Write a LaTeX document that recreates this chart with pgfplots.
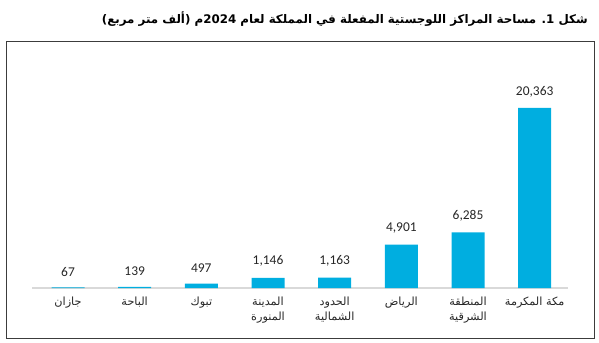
\documentclass[border=0pt]{standalone}
\usepackage{fontspec}
\usepackage{pgfplots}
\pgfplotsset{compat=1.18}
\TeXXeTstate=1
\newfontfamily\arabicfont[Script=Arabic]{DejaVu Sans}
\newfontfamily\arabicbold[Script=Arabic]{DejaVu Sans Bold}
\newfontfamily\numfont{Carlito}
\newcommand{\AR}[1]{{\arabicfont\beginR #1\endR}}
\definecolor{barcyan}{RGB}{0,174,224}
\definecolor{frame}{RGB}{60,60,60}
\begin{document}
\begin{tikzpicture}
\useasboundingbox (0,0) rectangle (599bp,343bp);
\draw[frame, line width=0.9bp] (6.5bp,343bp-41bp) rectangle (594.5bp,343bp-338bp);
\node[anchor=base east, inner sep=0pt] at (588bp,343bp-24bp)
  {\arabicbold\fontsize{11.9}{15}\selectfont\beginR شكل 1. مساحة المراكز اللوجستية المفعلة في المملكة لعام 2024م (ألف متر مربع)\endR};
\begin{axis}[
  at={(32bp,55bp)}, anchor=south west,
  scale only axis, width=536bp, height=228bp,
  xmin=-0.54, xmax=7.5, ymin=0, ymax=25793,
  clip=false,
  axis x line*=bottom, axis y line=none,
  x axis line style={draw=black!15, line width=1.6bp, -},
  xtick={0,...,7}, major tick length=0pt,
  xticklabels={{\AR{جازان}},{\AR{الباحة}},{\AR{تبوك}},{\AR{المدينة}\\\AR{المنورة}},{\AR{الحدود}\\\AR{الشمالية}},{\AR{الرياض}},{\AR{المنطقة}\\\AR{الشرقية}},{{\arabicfont\beginR مكة المكرمة\endR}}},
  xticklabel style={align=center, font=\fontsize{11.3}{15}\selectfont, text=black!85, anchor=north, yshift=-5bp},
  ytick=\empty,
  ybar, bar width=33bp,
  nodes near coords,
  nodes near coords style={font=\numfont\fontsize{13.5}{15}\selectfont, text=black!85, anchor=south, inner sep=0pt, yshift=11bp},
  point meta=explicit symbolic,
]
\addplot[fill=barcyan, draw=none] coordinates {
  (0,67) [67]
  (1,139) [139]
  (2,497) [497]
  (3,1146) [{1,146}]
  (4,1163) [{1,163}]
  (5,4901) [{4,901}]
  (6,6285) [{6,285}]
  (7,20363) [{20,363}]
};
\end{axis}
\end{tikzpicture}
\end{document}
